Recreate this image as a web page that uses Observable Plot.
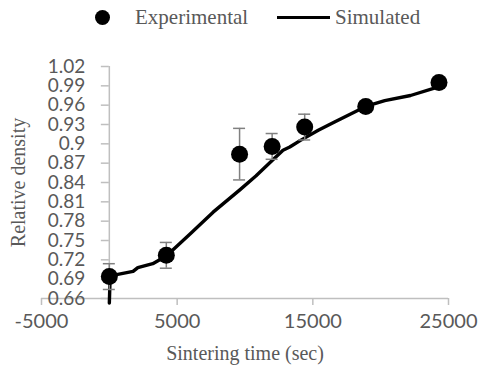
<!DOCTYPE html>
<html>
<head>
<meta charset="utf-8">
<script src="https://cdn.jsdelivr.net/npm/d3@7"></script>
<script src="https://cdn.jsdelivr.net/npm/@observablehq/plot@0.6"></script>
<style>
  html, body { margin: 0; padding: 0; background: #fff; }
  #wrap { width: 479px; height: 381px; position: relative; overflow: hidden; }
  #legend { position: relative; width: 479px; height: 36px; font-family: "Liberation Serif", "Times New Roman", serif; font-size: 21px; color: #595959; }
  #legend .dot { position: absolute; left: 94.5px; top: 9.5px; width: 15px; height: 15px; border-radius: 50%; background: #000; }
  #legend .ln { position: absolute; left: 277px; top: 15.5px; width: 53px; height: 3.5px; background: #000; }
  #legend .lab { position: absolute; top: 3px; line-height: 28px; white-space: nowrap; }
  #chart svg { display: block; }
</style>
</head>
<body>
<div id="wrap">
  <div id="legend">
    <div class="dot"></div><div class="lab" style="left:135px">Experimental</div>
    <div class="ln"></div><div class="lab" style="left:335px">Simulated</div>
  </div>
  <div id="chart"></div>
</div>
<script>
// Measured relative density vs. sintering time, with error bars
const expTime    = [0, 4200, 9600, 12000, 14400, 18900, 24300];
const expDensity = [0.694, 0.727, 0.884, 0.896, 0.926, 0.958, 0.995];
const expError   = [0.02, 0.02, 0.04, 0.02, 0.02, 0.005, 0.005];

// Simulated densification curve
const simTime    = [0, 60, 1750, 2100, 3200, 4200, 5950, 7650, 9640, 10800, 12000, 12800, 13300, 14060, 15400, 16600, 17750, 18900, 20300, 22200, 23900, 24300];
const simDensity = [0.653, 0.695, 0.702, 0.708, 0.714, 0.726, 0.760, 0.794, 0.829, 0.850, 0.874, 0.890, 0.895, 0.905, 0.921, 0.934, 0.946, 0.958, 0.967, 0.975, 0.986, 0.990];

// Axis ticks
const xTicks = [-5000, 5000, 15000, 25000];
const yTicks = [0.66, 0.69, 0.72, 0.75, 0.78, 0.81, 0.84, 0.87, 0.90, 0.93, 0.96, 0.99, 1.02];

const expRows = expTime.map((t, i) => ({t, d: expDensity[i], lo: expDensity[i] - expError[i], hi: expDensity[i] + expError[i]}));
const simRows = simTime.map((t, i) => ({t, d: simDensity[i]}));

const W = 479, H = 345, mL = 41, mR = 31, mT = 30, mB = 83;
const xDomain = [-5000, 25000];
const yDomain = [0.66, 1.02];
// the vertical axis crosses the horizontal one at t = 0
const yAxisShift = (0 - xDomain[0]) / (xDomain[1] - xDomain[0]) * (W - mL - mR);

const axisGray = "#bfbfbf";
const textGray = "#595959";
const tickFont = "Lato, 'Open Sans', sans-serif";
const titleFont = "'Liberation Serif', 'Times New Roman', serif";

const chart = Plot.plot({
  width: W, height: H,
  marginLeft: mL, marginRight: mR, marginTop: mT, marginBottom: mB,
  x: {domain: xDomain},
  y: {domain: yDomain},
  style: {background: "#fff", overflow: "visible"},
  marks: [
    // axis lines
    Plot.ruleY([yDomain[0]], {stroke: axisGray, strokeWidth: 1.5}),
    Plot.ruleX([0], {y1: yDomain[0], y2: yDomain[1], stroke: axisGray, strokeWidth: 1.5}),
    Plot.axisX({ticks: xTicks, tickSize: 7, tickPadding: 8, tickFormat: d => String(d), label: null,
      stroke: axisGray, strokeWidth: 1.5, fill: textGray, fontSize: 20, fontFamily: tickFont}),
    Plot.axisY({ticks: yTicks, tickSize: 8, tickPadding: 16, dx: yAxisShift, tickFormat: d => String(+d.toFixed(2)), label: null,
      stroke: axisGray, strokeWidth: 1.5, fill: textGray, fontSize: 19, fontFamily: tickFont}),
    // simulated curve
    Plot.line(simRows, {x: "t", y: "d", stroke: "#000", strokeWidth: 3.4, strokeLinejoin: "round"}),
    // error bars with caps
    Plot.ruleX(expRows, {x: "t", y1: "lo", y2: "hi", stroke: "#808080", strokeWidth: 1.5}),
    Plot.ruleY(expRows, {x1: "t", x2: "t", y: "hi", insetLeft: -6, insetRight: -6, stroke: "#808080", strokeWidth: 1.5}),
    Plot.ruleY(expRows, {x1: "t", x2: "t", y: "lo", insetLeft: -6, insetRight: -6, stroke: "#808080", strokeWidth: 1.5}),
    // experimental points
    Plot.dot(expRows, {x: "t", y: "d", r: 8.5, fill: "#000"}),
    // axis titles
    Plot.text(["Relative density"], {frameAnchor: "left", textAnchor: "middle", dx: -22.5, rotate: -90, fontSize: 20, fontFamily: titleFont, fill: textGray}),
    Plot.text(["Sintering time (sec)"], {frameAnchor: "bottom", textAnchor: "middle", lineAnchor: "middle", dy: 55, fontSize: 20, fontFamily: titleFont, fill: textGray})
  ]
});
document.getElementById("chart").appendChild(chart);
</script>
</body>
</html>
